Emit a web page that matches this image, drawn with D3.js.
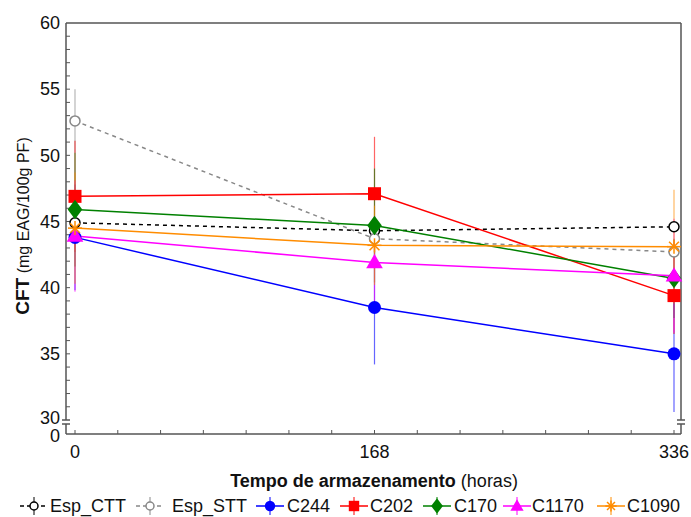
<!DOCTYPE html>
<html>
<head>
<meta charset="utf-8">
<script src="https://cdn.jsdelivr.net/npm/d3@7"></script>
<style>
  body { margin: 0; background: #fff; }
  svg text { font-family: "Liberation Sans", Arial, sans-serif; fill: #111; }
</style>
</head>
<body>
<script>
// dati
const horas = [0, 168, 336];
const ticksHoras = [0, 168, 336];
const ticksCFT = [30, 35, 40, 45, 50, 55, 60];

const espCTT = [44.9, 44.3, 44.6];
const espCTTerr = [0.3, 0.4, 0.3];
const espSTT = [52.6, 43.7, 42.7];
const espSTTerr = [2.4, 0.5, 0.5];
const c244 = [43.8, 38.5, 35.0];
const c244err = [4.0, 4.3, 4.4];
const c202 = [46.9, 47.1, 39.4];
const c202err = [4.2, 4.3, 2.9];
const c170 = [45.9, 44.7, 40.7];
const c170err = [4.3, 4.3, 3.0];
const c1170 = [43.9, 41.9, 40.9];
const c1170err = [4.2, 3.5, 4.3];
const c1090 = [44.5, 43.2, 43.1];
const c1090err = [4.2, 3.0, 4.3];

const serie = [
  { nome: "Esp_CTT", val: espCTT, err: espCTTerr, colore: "#000", simbolo: "aperto", tratteggio: "4,4" },
  { nome: "Esp_STT", val: espSTT, err: espSTTerr, colore: "#888", simbolo: "aperto", tratteggio: "4,4" },
  { nome: "C244", val: c244, err: c244err, colore: "#0000ff", simbolo: "cerchio" },
  { nome: "C202", val: c202, err: c202err, colore: "#ff0000", simbolo: "quadrato" },
  { nome: "C170", val: c170, err: c170err, colore: "#008000", simbolo: "rombo" },
  { nome: "C1170", val: c1170, err: c1170err, colore: "#ff00ff", simbolo: "triangolo" },
  { nome: "C1090", val: c1090, err: c1090err, colore: "#ff8c00", simbolo: "asterisco" }
];

const svg = d3.select("body").append("svg")
  .attr("width", 691).attr("height", 517);

const x = d3.scaleLinear().domain([0, 336]).range([75, 674]);
const y = d3.scaleLinear().domain([30, 60]).range([420, 23]);
const yZero = 434;
const sx = 66, dx = 681, alto = 23;
const coloreAsse = "#555";

// cornice
const asse = svg.append("g").attr("stroke", coloreAsse).attr("stroke-width", 1.5).attr("fill", "none");
asse.append("line").attr("x1", sx).attr("x2", dx).attr("y1", alto).attr("y2", alto);
asse.append("line").attr("x1", sx).attr("x2", dx).attr("y1", yZero).attr("y2", yZero);
[sx, dx].forEach(function (xx) {
  asse.append("line").attr("x1", xx).attr("x2", xx).attr("y1", alto).attr("y2", 420);
  asse.append("line").attr("x1", xx).attr("x2", xx).attr("y1", 424).attr("y2", yZero);
  // segno di interruzione
  asse.append("line").attr("x1", xx - 4).attr("x2", xx + 4).attr("y1", 420).attr("y2", 420);
  asse.append("line").attr("x1", xx - 4).attr("x2", xx + 4).attr("y1", 424).attr("y2", 424);
});

// tacche minori asse y
const tacche = asse.append("g").attr("stroke-width", 1);
d3.range(31, 60).forEach(function (v) {
  tacche.append("line").attr("x1", sx).attr("x2", sx + 4).attr("y1", y(v)).attr("y2", y(v));
});
// tacche asse x ogni 24 ore
d3.range(0, 337, 24).forEach(function (h) {
  tacche.append("line").attr("x1", x(h)).attr("x2", x(h)).attr("y1", yZero).attr("y2", yZero - 4);
});

// etichette asse y
svg.append("g").selectAll("text").data(ticksCFT).join("text")
  .attr("x", sx - 6).attr("y", d => d === 30 ? y(d) - 2 : y(d)).attr("dy", "0.35em")
  .attr("text-anchor", "end").attr("font-size", 18).text(d => d);
svg.append("text").attr("x", sx - 6).attr("y", yZero + 2).attr("dy", "0.35em")
  .attr("text-anchor", "end").attr("font-size", 18).text("0");

// etichette asse x
svg.append("g").selectAll("text").data(ticksHoras).join("text")
  .attr("x", d => x(d)).attr("y", 452).attr("dy", "0.35em")
  .attr("text-anchor", "middle").attr("font-size", 18).text(d => d);

// titoli assi
const tx = svg.append("text").attr("x", 374).attr("y", 487).attr("text-anchor", "middle").attr("font-size", 18);
tx.append("tspan").attr("font-weight", "bold").text("Tempo de armazenamento");
tx.append("tspan").text(" (horas)");

const ty = svg.append("text").attr("transform", "translate(29,226) rotate(-90)").attr("text-anchor", "middle");
ty.append("tspan").attr("font-weight", "bold").attr("font-size", 19).text("CFT");
ty.append("tspan").attr("font-size", 16).text(" (mg EAG/100g PF)");

// simboli
function disegnaSimbolo(g, s, cx, cy, k) {
  const c = s.colore;
  if (s.simbolo === "aperto") {
    g.append("circle").attr("cx", cx).attr("cy", cy).attr("r", 5 * k)
      .attr("fill", "#fff").attr("stroke", c).attr("stroke-width", 1.5);
  } else if (s.simbolo === "cerchio") {
    g.append("circle").attr("cx", cx).attr("cy", cy).attr("r", 6.5 * k).attr("fill", c);
  } else if (s.simbolo === "quadrato") {
    g.append("rect").attr("x", cx - 6.5 * k).attr("y", cy - 6.5 * k)
      .attr("width", 13 * k).attr("height", 13 * k).attr("fill", c);
  } else if (s.simbolo === "rombo") {
    g.append("path").attr("d", d3.symbol(d3.symbolDiamond, 110 * k * k)()).attr("fill", c)
      .attr("transform", `translate(${cx},${cy}) scale(1.3,1)`);
  } else if (s.simbolo === "triangolo") {
    g.append("path").attr("d", d3.symbol(d3.symbolTriangle, 120 * k * k)()).attr("fill", c)
      .attr("transform", `translate(${cx},${cy + 1})`);
  } else if (s.simbolo === "asterisco") {
    const r = 7 * k;
    [0, 45, 90, 135].forEach(function (a) {
      const rad = a * Math.PI / 180;
      g.append("line")
        .attr("x1", cx - r * Math.cos(rad)).attr("y1", cy - r * Math.sin(rad))
        .attr("x2", cx + r * Math.cos(rad)).attr("y2", cy + r * Math.sin(rad))
        .attr("stroke", c).attr("stroke-width", 1.5);
    });
  }
}

// barre di errore
const barre = svg.append("g");
serie.forEach(function (s) {
  s.val.forEach(function (v, i) {
    barre.append("line")
      .attr("x1", x(horas[i])).attr("x2", x(horas[i]))
      .attr("y1", y(v - s.err[i])).attr("y2", y(v + s.err[i]))
      .attr("stroke", s.colore).attr("stroke-width", 1.2).attr("opacity", 0.6);
  });
});

// linee
const linea = d3.line().x((d, i) => x(horas[i])).y(d => y(d));
serie.forEach(function (s) {
  svg.append("path").datum(s.val)
    .attr("d", linea).attr("fill", "none")
    .attr("stroke", s.colore).attr("stroke-width", 1.5)
    .attr("stroke-dasharray", s.tratteggio || null);
});

// marcatori
serie.forEach(function (s) {
  const g = svg.append("g");
  s.val.forEach(function (v, i) { disegnaSimbolo(g, s, x(horas[i]), y(v), 1); });
});

// legenda
const posLegenda = [
  { sx: 20, tx: 50 }, { sx: 136, tx: 172 }, { sx: 256, tx: 287 }, { sx: 340, tx: 370 },
  { sx: 423, tx: 454 }, { sx: 503, tx: 532 }, { sx: 597, tx: 627 }
];
const yL = 506;
serie.forEach(function (s, i) {
  const g = svg.append("g");
  const p = posLegenda[i];
  const cx = p.sx + 14;
  g.append("line").attr("x1", p.sx).attr("x2", p.sx + 28).attr("y1", yL).attr("y2", yL)
    .attr("stroke", s.colore).attr("stroke-width", 1.5)
    .attr("stroke-dasharray", s.tratteggio ? "4,3" : null);
  g.append("line").attr("x1", cx).attr("x2", cx).attr("y1", yL - 9).attr("y2", yL + 9)
    .attr("stroke", s.colore).attr("stroke-width", 1);
  disegnaSimbolo(g, s, cx, yL, 0.8);
  svg.append("text").attr("x", p.tx).attr("y", yL).attr("dy", "0.35em")
    .attr("font-size", 18).text(s.nome);
});
</script>
</body>
</html>
